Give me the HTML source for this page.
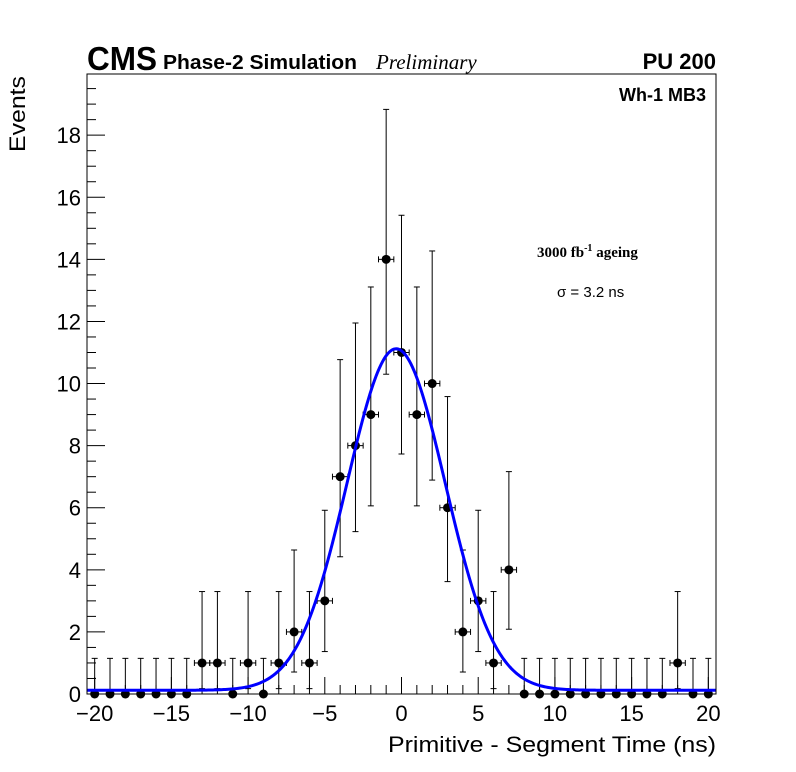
<!DOCTYPE html>
<html><head><meta charset="utf-8">
<style>
body{margin:0;background:#fff;}
svg{display:block;font-family:"Liberation Sans",sans-serif;}
</style></head>
<body>
<svg id="chart" width="796" height="772" viewBox="0 0 796 772">
<rect x="0" y="0" width="796" height="772" fill="#fff"/>
<text x="87" y="70" font-size="33" font-weight="bold" textLength="70" lengthAdjust="spacingAndGlyphs">CMS</text>
<text x="163" y="69" font-size="20" font-weight="bold" textLength="194" lengthAdjust="spacingAndGlyphs">Phase-2 Simulation</text>
<text x="376" y="69" font-size="21" font-style="italic" font-family="Liberation Serif, serif">Preliminary</text>
<text x="716" y="69" font-size="22" font-weight="bold" text-anchor="end">PU 200</text>
<text x="706" y="101" font-size="18" font-weight="bold" text-anchor="end">Wh-1 MB3</text>
<text x="537" y="257" font-size="15" font-weight="bold" font-family="Liberation Serif, serif">3000 fb<tspan dy="-6" font-size="10">-1</tspan><tspan dy="6"> ageing</tspan></text>
<text x="557" y="297" font-size="15">σ = 3.2 ns</text>
<text x="716" y="752" font-size="22" text-anchor="end" textLength="328" lengthAdjust="spacingAndGlyphs">Primitive - Segment Time (ns)</text>
<text transform="translate(25,152) rotate(-90)" font-size="22" textLength="76" lengthAdjust="spacingAndGlyphs">Events</text>
<g id="axes"></g>
<g id="marks"></g>
<rect x="87" y="74" width="629" height="620" fill="none" stroke="#000" stroke-width="1"/>
</svg>
<script>
const binCenters=[-20,-19,-18,-17,-16,-15,-14,-13,-12,-11,-10,-9,-8,-7,-6,-5,-4,-3,-2,-1,0,1,2,3,4,5,6,7,8,9,10,11,12,13,14,15,16,17,18,19,20];
const counts=[0,0,0,0,0,0,0,1,1,0,1,0,1,2,1,3,7,8,9,14,11,9,10,6,2,3,1,4,0,0,0,0,0,0,0,0,0,0,1,0,0];
const xTicks=[-20,-15,-10,-5,0,5,10,15,20];
const yTicks=[0,2,4,6,8,10,12,14,16,18];
const fitAmp=[11.0];
const fitMean=[-0.35];
const fitSigma=[3.2];
const fitConst=[0.12];
// Poisson 68% interval bounds indexed by count
const poisLow=[0,0.173,0.708,1.367,2.086,2.84,3.62,4.42,5.23,6.06,6.89,7.73,8.58,9.44,10.30];
const poisHigh=[1.148,3.300,4.638,5.918,7.163,8.38,9.58,10.77,11.95,13.11,14.27,15.42,16.56,17.70,18.83];

const X0=87,X1=716,Y0=694,Y1=74;
const xmin=-20.5,xmax=20.5,ymin=0,ymax=19.97;
const sx=v=>X0+(v-xmin)/(xmax-xmin)*(X1-X0);
const sy=v=>Y0-(v-ymin)/(ymax-ymin)*(Y0-Y1);
const NS="http://www.w3.org/2000/svg";
function mk(tag,attrs,parent){const e=document.createElementNS(NS,tag);for(const k in attrs)e.setAttribute(k,attrs[k]);parent.appendChild(e);return e;}
const axes=document.getElementById('axes'),marks=document.getElementById('marks');

for(let v=-20;v<=20;v++){
  const major=(v%5===0);
  const t=mk('line',{x1:sx(v),x2:sx(v),y1:Y0,y2:Y0-(major?17:9),stroke:'#000','stroke-width':1},axes);
  
  
}
xTicks.forEach(v=>{
  const t=mk('text',{x:sx(v),y:Y0+27,'font-size':22,'text-anchor':'middle'},axes);
  t.textContent=(v<0?'\u2212'+(-v):String(v));
  
  
});
for(let v=0;v<=19.5;v+=0.5){
  const major=(Math.abs(v%2)<1e-9);
  const t=mk('line',{x1:X0,x2:X0+(major?18:9),y1:sy(v),y2:sy(v),stroke:'#000','stroke-width':1},axes);
  
  
}
yTicks.forEach(v=>{
  const t=mk('text',{x:X0-6,y:sy(v)+8,'font-size':22,'text-anchor':'end'},axes);
  t.textContent=String(v);
  
  
});

binCenters.forEach((c,i)=>{
  const n=counts[i];
  const g=mk('g',{},marks);
  
  
  const px=sx(c),py=sy(n);
  mk('line',{x1:px,x2:px,y1:sy(poisHigh[n]),y2:sy(poisLow[n]),stroke:'#000','stroke-width':1},g);
  mk('line',{x1:px-3,x2:px+3,y1:sy(poisHigh[n]),y2:sy(poisHigh[n]),stroke:'#000','stroke-width':1},g);
  if(n>0){
    mk('line',{x1:px-3,x2:px+3,y1:sy(poisLow[n]),y2:sy(poisLow[n]),stroke:'#000','stroke-width':1},g);
    mk('line',{x1:sx(c-0.5),x2:sx(c+0.5),y1:py,y2:py,stroke:'#000','stroke-width':1},g);
    mk('line',{x1:sx(c-0.5),x2:sx(c-0.5),y1:py-3,y2:py+3,stroke:'#000','stroke-width':1},g);
    mk('line',{x1:sx(c+0.5),x2:sx(c+0.5),y1:py-3,y2:py+3,stroke:'#000','stroke-width':1},g);
  }
  mk('circle',{cx:px,cy:py,r:4.5,fill:'#000'},g);
});

let d='';
for(let k=0;k<=400;k++){
  const x=xmin+(xmax-xmin)*k/400;
  const y=fitConst[0]+fitAmp[0]*Math.exp(-0.5*Math.pow((x-fitMean[0])/fitSigma[0],2));
  d+=(k?'L':'M')+sx(x).toFixed(2)+','+sy(y).toFixed(2);
}
const fit=mk('path',{d:d,fill:'none',stroke:'#0000ff','stroke-width':3},marks);


</script>
</body></html>
